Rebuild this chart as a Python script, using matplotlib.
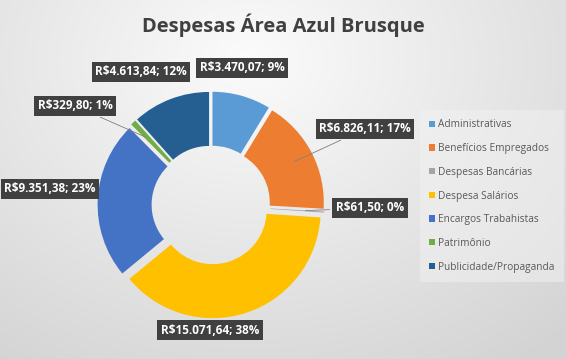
import matplotlib.pyplot as plt
import numpy as np

# dados do gráfico
categorias = ["Administrativas", "Benefícios Empregados", "Despesas Bancárias",
              "Despesa Salários", "Encargos Trabahistas", "Patrimônio",
              "Publicidade/Propaganda"]
valores = [3470.07, 6826.11, 61.50, 15071.64, 9351.38, 329.80, 4613.84]
percentuais = [9, 17, 0, 38, 23, 1, 12]
cores = ["#5B9BD5", "#ED7D31", "#A5A5A5", "#FFC000", "#4472C4", "#70AD47", "#255E91"]

# posição dos rótulos (pixels a partir do centro do gráfico) e se tem linha guia
pos_rotulos = [(31, 137), (154, 76), (159, -3), (-1, -125), (-161, 16), (-136, 99), (-70, 133)]
linha_guia = [False, True, True, False, False, True, False]

W, H = 566, 359
fig = plt.figure(figsize=(W / 100, H / 100), dpi=100)

# fundo com gradiente
bg = fig.add_axes([0, 0, 1, 1])
yy, xx = np.mgrid[0:H, 0:W]
d = np.sqrt(((xx - 250) / 420.0) ** 2 + ((yy - 60) / 330.0) ** 2)
g = np.clip(0.985 - 0.14 * d, 0.83, 0.985)
bg.imshow(np.dstack([g, g, g]), extent=[0, W, H, 0], aspect="auto")
bg.set_xlim(0, W)
bg.set_ylim(H, 0)
bg.axis("off")

cx, cy, R = 211, 205, 108.0
ax = fig.add_axes([(cx - 1.2 * R) / W, (H - cy - 1.2 * R) / H, 2.4 * R / W, 2.4 * R / H])
ax.set_zorder(2)
wedges, _ = ax.pie(valores, colors=cores, startangle=90, counterclock=False,
                   explode=[0.05] * len(valores),
                   wedgeprops=dict(width=0.5, edgecolor="none"))
ax.set_xlim(-1.2, 1.2)
ax.set_ylim(-1.2, 1.2)
ax.set_aspect("equal")
ax.axis("off")


def fmt(v):
    s = f"{v:,.2f}"
    return "R$" + s.replace(",", "X").replace(".", ",").replace("X", ".")


for w, v, p, (dx, dy), lg in zip(wedges, valores, percentuais, pos_rotulos, linha_guia):
    ang = np.deg2rad((w.theta1 + w.theta2) / 2)
    tx, ty = dx / R, dy / R
    r_ponto = 0.85 if lg else 1.0
    arrow = dict(arrowstyle="-", color="#7f7f7f", lw=0.6) if lg else None
    ax.annotate(f"{fmt(v)}; {p}%", xy=(np.cos(ang) * r_ponto, np.sin(ang) * r_ponto),
                xytext=(tx, ty), ha="center", va="center", color="white",
                fontsize=8.5, fontweight="bold", family="Open Sans",
                annotation_clip=False,
                bbox=dict(boxstyle="square,pad=0.3", fc="#404040", ec="none"),
                arrowprops=arrow)

fig.text(0.5, 1 - 25 / H, "Despesas Área Azul Brusque", ha="center", va="center",
         fontsize=14.5, fontweight="bold", color="#404040", family="Open Sans")

leg = fig.legend(wedges, categorias, loc="center left", bbox_to_anchor=(418 / W, 1 - 196 / H),
                 frameon=True, labelcolor="#595959", handlelength=0.6,
                 handleheight=0.6, handletextpad=0.3, labelspacing=1.25, borderpad=0.6,
                 prop={"family": "Open Sans", "size": 7.3})
leg.get_frame().set_facecolor("#f2f2f2")
leg.get_frame().set_alpha(0.5)
leg.get_frame().set_edgecolor("none")
leg.get_frame().set_boxstyle("square")

fig.savefig("out.png", dpi=100)
